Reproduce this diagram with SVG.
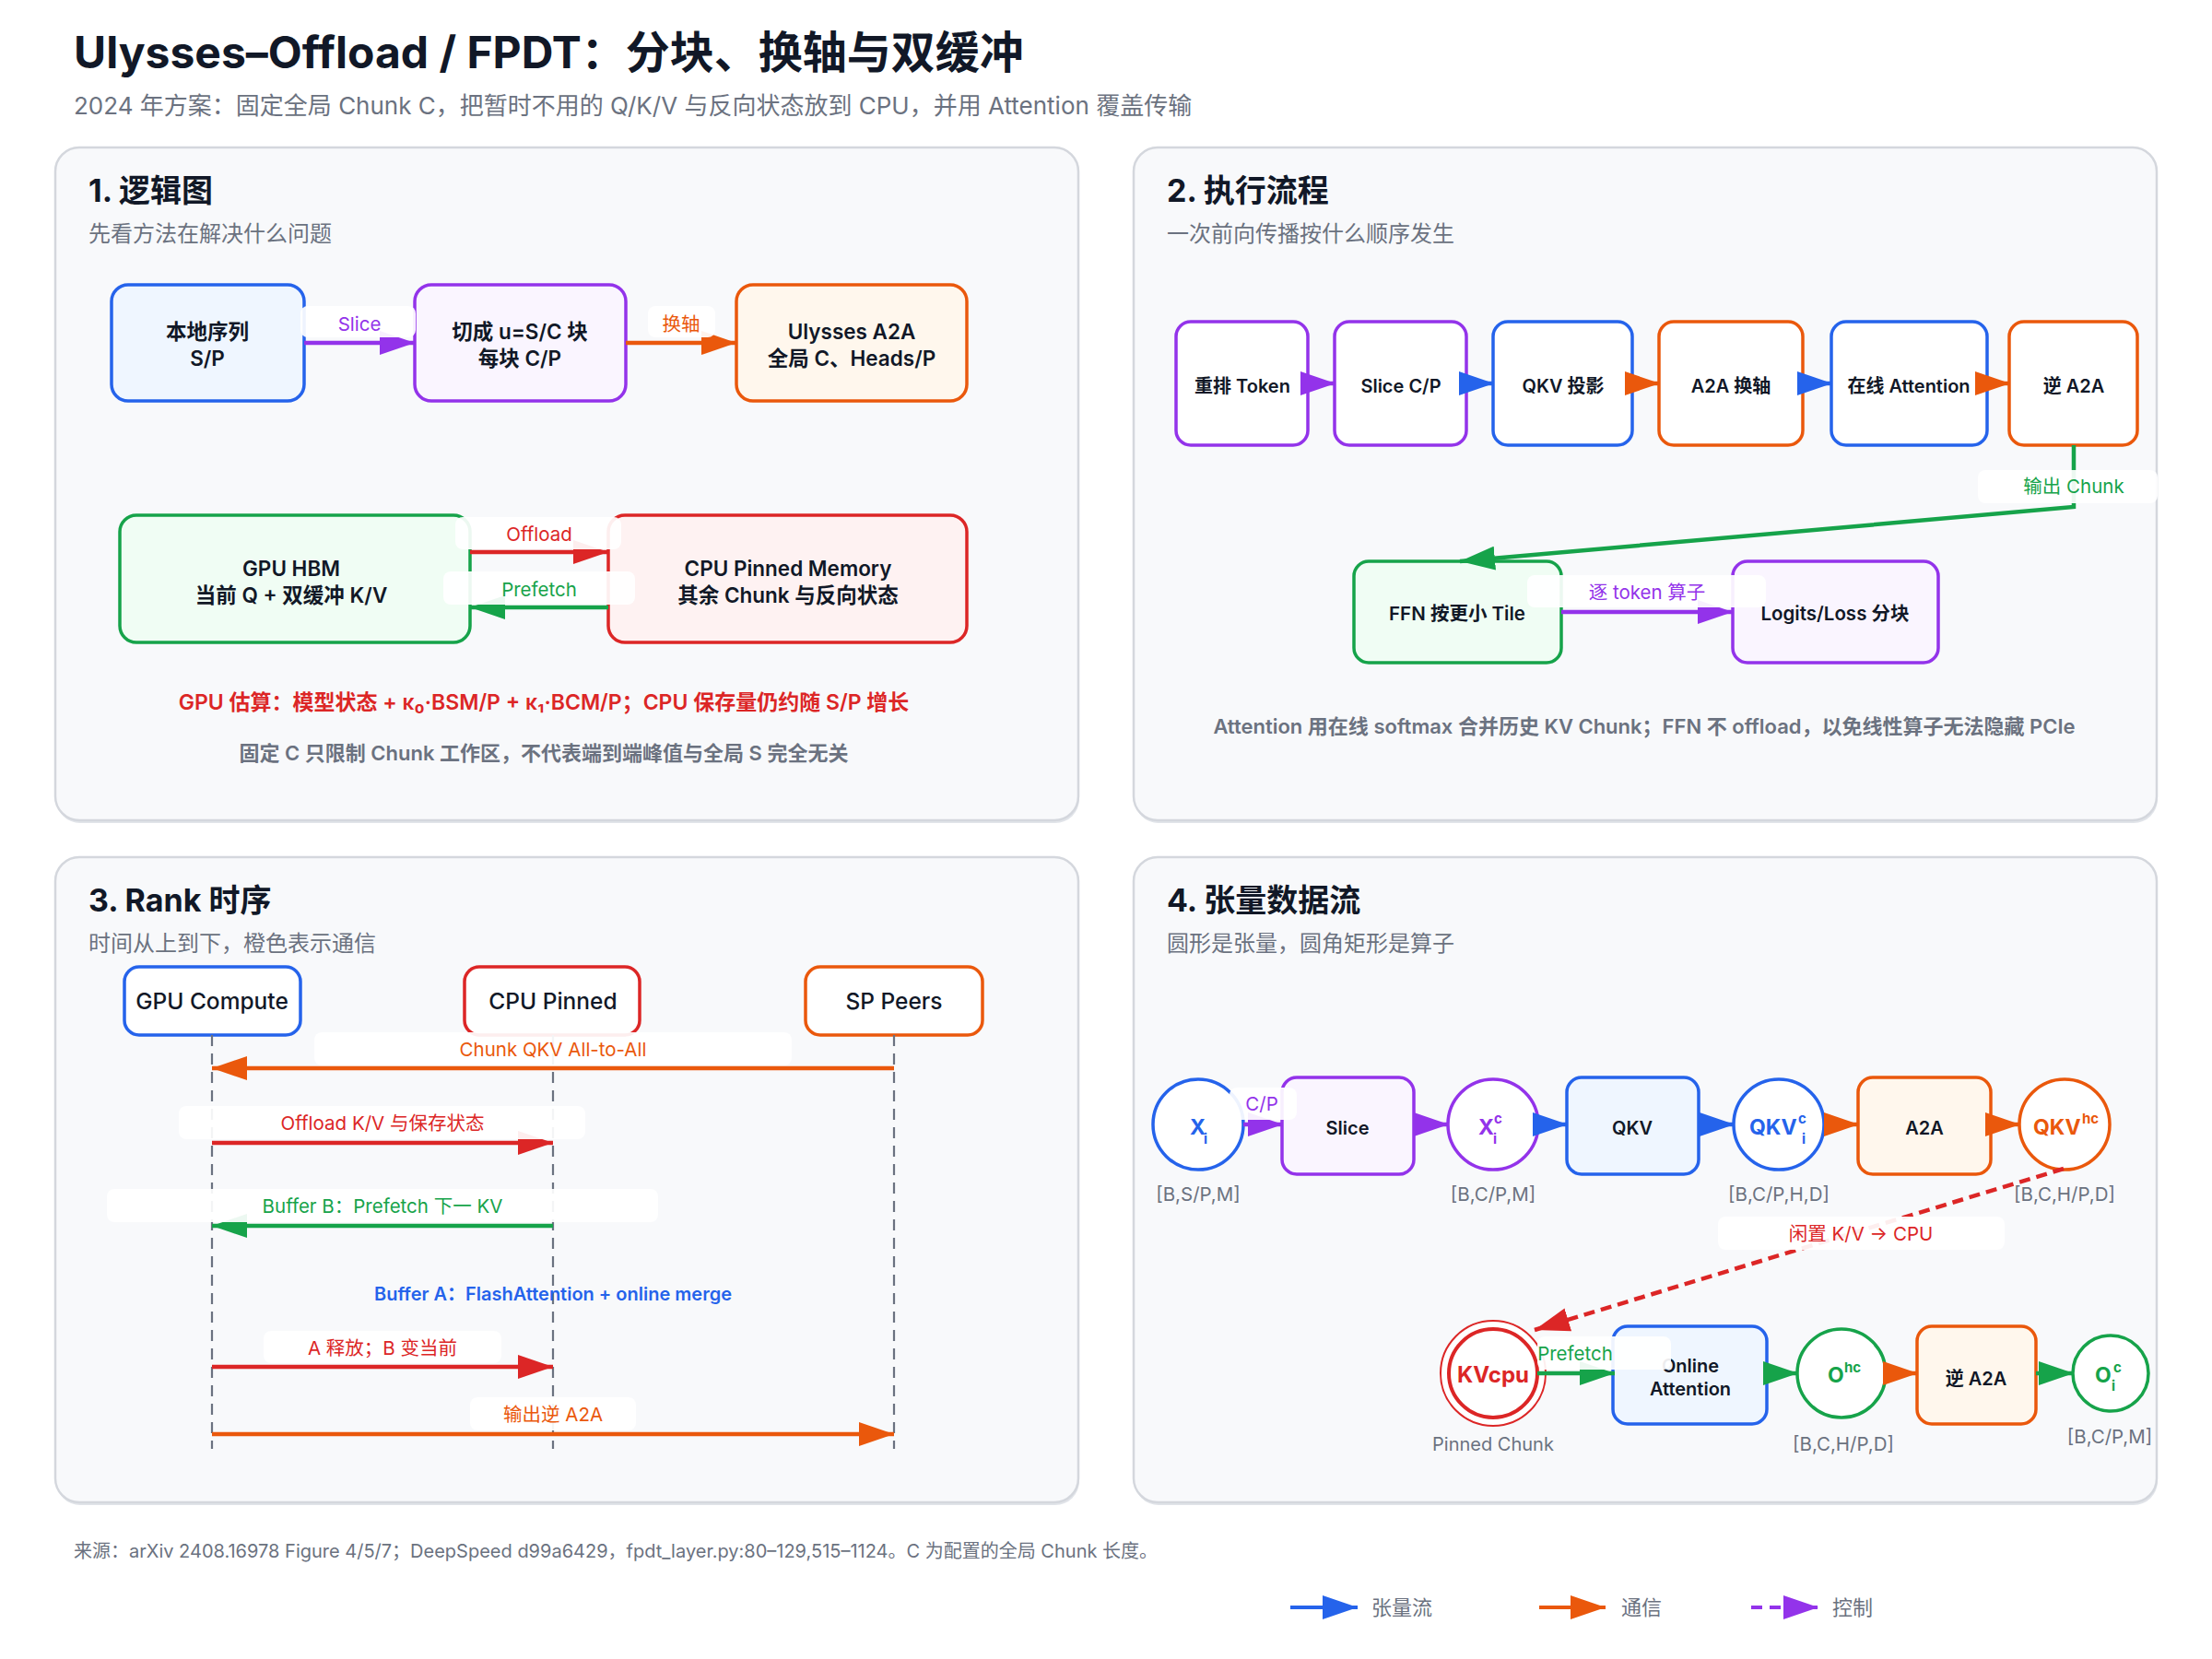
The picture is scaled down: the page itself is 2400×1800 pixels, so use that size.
<svg xmlns="http://www.w3.org/2000/svg" width="2400" height="1800" viewBox="0 0 2400 1800">
<style>
text{font-family:Inter,"Noto Sans CJK SC",sans-serif;}
.title{font-size:48px;font-weight:700;fill:#111827;}
.subtitle{font-size:26px;fill:#6b7280;}
.ptitle{font-size:34px;font-weight:700;fill:#111827;}
.psub{font-size:24px;fill:#6b7280;}
.panel{fill:#f8f9fb;stroke:#d4d7dd;stroke-width:2.5;}
.shadow{fill:#e1e4e9;}
.nt{font-size:20px;font-weight:600;fill:#111827;text-anchor:middle;}
.nt1{font-size:22.5px;font-weight:600;fill:#111827;text-anchor:middle;}
.at{font-size:24.5px;font-weight:500;fill:#111827;text-anchor:middle;}
.lbl{font-size:20.5px;text-anchor:middle;}
.lbox{fill:#ffffff;fill-opacity:0.92;}
.note{font-size:22px;font-weight:600;text-anchor:middle;}
.dim{font-size:20.5px;fill:#6b7280;text-anchor:middle;}
.ct{font-size:23px;font-weight:700;}
.sm{font-size:15px;font-weight:700;}
.n{stroke-width:3.5;}
.blue{stroke:#2563eb;}
.purple{stroke:#9333ea;}
.orange{stroke:#ea580c;}
.green{stroke:#16a34a;}
.red{stroke:#dc2626;}
.c{fill:none;stroke-width:4.5;}
.life{stroke:#6b7280;stroke-width:2.2;stroke-dasharray:12 8;fill:none;}
</style>
<defs>
<marker id="ah-blue" markerUnits="userSpaceOnUse" markerWidth="38" markerHeight="26" refX="38" refY="13" orient="auto"><path d="M0,0 L38,13 L0,26 Z" fill="#2563eb"/></marker>
<marker id="ah-purple" markerUnits="userSpaceOnUse" markerWidth="38" markerHeight="26" refX="38" refY="13" orient="auto"><path d="M0,0 L38,13 L0,26 Z" fill="#9333ea"/></marker>
<marker id="ah-orange" markerUnits="userSpaceOnUse" markerWidth="38" markerHeight="26" refX="38" refY="13" orient="auto"><path d="M0,0 L38,13 L0,26 Z" fill="#ea580c"/></marker>
<marker id="ah-green" markerUnits="userSpaceOnUse" markerWidth="38" markerHeight="26" refX="38" refY="13" orient="auto"><path d="M0,0 L38,13 L0,26 Z" fill="#16a34a"/></marker>
<marker id="ah-red" markerUnits="userSpaceOnUse" markerWidth="38" markerHeight="26" refX="38" refY="13" orient="auto"><path d="M0,0 L38,13 L0,26 Z" fill="#dc2626"/></marker>
</defs>
<rect x="0" y="0" width="2400" height="1800" fill="#ffffff"/>

<text class="title" x="80" y="74">Ulysses–Offload / FPDT：分块、换轴与双缓冲</text>
<text class="subtitle" x="80" y="124">2024 年方案：固定全局 Chunk C，把暂时不用的 Q/K/V 与反向状态放到 CPU，并用 Attention 覆盖传输</text>

<g id="panels">
<rect class="shadow" x="61" y="163" width="1110" height="730" rx="26"/>
<rect class="panel" x="60" y="160" width="1110" height="730" rx="26"/>
<rect class="shadow" x="1231" y="163" width="1110" height="730" rx="26"/>
<rect class="panel" x="1230" y="160" width="1110" height="730" rx="26"/>
<rect class="shadow" x="61" y="933" width="1110" height="700" rx="26"/>
<rect class="panel" x="60" y="930" width="1110" height="700" rx="26"/>
<rect class="shadow" x="1231" y="933" width="1110" height="700" rx="26"/>
<rect class="panel" x="1230" y="930" width="1110" height="700" rx="26"/>
<text class="ptitle" x="96" y="219">1. 逻辑图</text>
<text class="psub" x="96" y="262">先看方法在解决什么问题</text>
<text class="ptitle" x="1266" y="219">2. 执行流程</text>
<text class="psub" x="1266" y="262">一次前向传播按什么顺序发生</text>
<text class="ptitle" x="96" y="989">3. Rank 时序</text>
<text class="psub" x="96" y="1032">时间从上到下，橙色表示通信</text>
<text class="ptitle" x="1266" y="989">4. 张量数据流</text>
<text class="psub" x="1266" y="1032">圆形是张量，圆角矩形是算子</text>
</g>

<!-- Panel 1 nodes -->
<g id="p1-local"><rect class="n blue" x="121" y="309" width="209" height="126" rx="18" fill="#eff6ff"/><text class="nt1" x="225" y="368">本地序列</text><text class="nt1" x="225" y="397">S/P</text></g>
<g id="p1-slice"><rect class="n purple" x="450" y="309" width="229" height="126" rx="18" fill="#faf5ff"/><text class="nt1" x="564" y="368">切成 u=S/C 块</text><text class="nt1" x="564" y="397">每块 C/P</text></g>
<g id="p1-a2a"><rect class="n orange" x="799" y="309" width="250" height="126" rx="18" fill="#fff7ed"/><text class="nt1" x="924" y="368">Ulysses A2A</text><text class="nt1" x="924" y="397">全局 C、Heads/P</text></g>
<g id="p1-gpu"><rect class="n green" x="130" y="559" width="380" height="138" rx="18" fill="#f0fdf4"/><text class="nt1" x="316" y="625">GPU HBM</text><text class="nt1" x="316" y="654">当前 Q + 双缓冲 K/V</text></g>
<g id="p1-cpu"><rect class="n red" x="660" y="559" width="389" height="138" rx="18" fill="#fef2f2"/><text class="nt1" x="855" y="625">CPU Pinned Memory</text><text class="nt1" x="855" y="654">其余 Chunk 与反向状态</text></g>

<!-- Panel 2 nodes -->
<g id="p2-reorder"><rect class="n purple" x="1276" y="349" width="143" height="134" rx="16" fill="#ffffff"/><text class="nt" x="1348" y="426">重排 Token</text></g>
<g id="p2-slice"><rect class="n purple" x="1448" y="349" width="143" height="134" rx="16" fill="#ffffff"/><text class="nt" x="1520" y="426">Slice C/P</text></g>
<g id="p2-qkv"><rect class="n blue" x="1620" y="349" width="151" height="134" rx="16" fill="#ffffff"/><text class="nt" x="1696" y="426">QKV 投影</text></g>
<g id="p2-a2a"><rect class="n orange" x="1800" y="349" width="156" height="134" rx="16" fill="#ffffff"/><text class="nt" x="1878" y="426">A2A 换轴</text></g>
<g id="p2-attn"><rect class="n blue" x="1987" y="349" width="169" height="134" rx="16" fill="#ffffff"/><text class="nt" x="2071" y="426">在线 Attention</text></g>
<g id="p2-inv"><rect class="n orange" x="2180" y="349" width="139" height="134" rx="16" fill="#ffffff"/><text class="nt" x="2250" y="426">逆 A2A</text></g>
<g id="p2-ffn"><rect class="n green" x="1469" y="609" width="225" height="110" rx="16" fill="#f0fdf4"/><text class="nt" x="1581" y="673" style="font-size:20.5px">FFN 按更小 Tile</text></g>
<g id="p2-logits"><rect class="n purple" x="1880" y="609" width="223" height="110" rx="16" fill="#faf5ff"/><text class="nt" x="1991" y="673" style="font-size:20.5px">Logits/Loss 分块</text></g>

<!-- Panel 3 actors -->
<g id="p3-gpu"><rect class="n blue" x="135" y="1049" width="191" height="74" rx="16" fill="#ffffff"/><text class="at" x="230" y="1095">GPU Compute</text></g>
<g id="p3-cpu"><rect class="n red" x="504" y="1049" width="190" height="74" rx="16" fill="#ffffff"/><text class="at" x="600" y="1095">CPU Pinned</text></g>
<g id="p3-sp"><rect class="n orange" x="874" y="1049" width="192" height="74" rx="16" fill="#ffffff"/><text class="at" x="970" y="1095">SP Peers</text></g>

<!-- Panel 4 nodes -->
<g id="p4-xi"><circle class="n blue" cx="1300" cy="1220" r="49" fill="#ffffff"/><text class="ct" x="1291" y="1231" fill="#2563eb">X</text><text class="sm" x="1306" y="1241" fill="#2563eb">i</text><text class="dim" x="1300" y="1303">[B,S/P,M]</text></g>
<g id="p4-slice"><rect class="n purple" x="1391" y="1169" width="143" height="105" rx="16" fill="#faf5ff"/><text class="nt" x="1462" y="1231">Slice</text></g>
<g id="p4-xic"><circle class="n purple" cx="1620" cy="1220" r="49" fill="#ffffff"/><text class="ct" x="1604" y="1231" fill="#9333ea">X</text><text class="sm" x="1621" y="1219" fill="#9333ea">c</text><text class="sm" x="1620" y="1241" fill="#9333ea">i</text><text class="dim" x="1620" y="1303">[B,C/P,M]</text></g>
<g id="p4-qkv"><rect class="n blue" x="1700" y="1169" width="143" height="105" rx="16" fill="#eff6ff"/><text class="nt" x="1771" y="1231">QKV</text></g>
<g id="p4-qkvc"><circle class="n blue" cx="1930" cy="1220" r="49" fill="#ffffff"/><text class="ct" x="1898" y="1231" fill="#2563eb">QKV</text><text class="sm" x="1951" y="1219" fill="#2563eb">c</text><text class="sm" x="1955" y="1241" fill="#2563eb">i</text><text class="dim" x="1930" y="1303">[B,C/P,H,D]</text></g>
<g id="p4-a2a"><rect class="n orange" x="2016" y="1169" width="144" height="105" rx="16" fill="#fff7ed"/><text class="nt" x="2088" y="1231">A2A</text></g>
<g id="p4-qkvhc"><circle class="n orange" cx="2240" cy="1220" r="49" fill="#ffffff"/><text class="ct" x="2206" y="1231" fill="#ea580c">QKV</text><text class="sm" x="2259" y="1219" fill="#ea580c">hc</text><text class="dim" x="2240" y="1303">[B,C,H/P,D]</text></g>
<g id="p4-kvcpu"><circle class="red" cx="1620" cy="1490" r="57" fill="#ffffff" stroke-width="2"/><circle class="red" cx="1620" cy="1490" r="48" fill="#ffffff" stroke-width="4"/><text class="ct" x="1620" y="1500" text-anchor="middle" fill="#dc2626" style="font-size:24px">KVcpu</text><text class="dim" x="1620" y="1574" style="font-size:20px">Pinned Chunk</text></g>
<g id="p4-online"><rect class="n blue" x="1750" y="1439" width="167" height="106" rx="16" fill="#eff6ff"/><text class="nt" x="1834" y="1489">Online</text><text class="nt" x="1834" y="1514">Attention</text></g>
<g id="p4-ohc"><circle class="n green" cx="1998" cy="1490" r="48" fill="#ffffff"/><text class="ct" x="1983" y="1500" fill="#16a34a">O</text><text class="sm" x="2001" y="1489" fill="#16a34a">hc</text><text class="dim" x="2000" y="1574">[B,C,H/P,D]</text></g>
<g id="p4-inv"><rect class="n orange" x="2080" y="1439" width="129" height="106" rx="16" fill="#fff7ed"/><text class="nt" x="2144" y="1503">逆 A2A</text></g>
<g id="p4-oic"><circle class="n green" cx="2290" cy="1490" r="41" fill="#ffffff"/><text class="ct" x="2273" y="1500" fill="#16a34a">O</text><text class="sm" x="2293" y="1489" fill="#16a34a">c</text><text class="sm" x="2291" y="1509" fill="#16a34a">i</text><text class="dim" x="2289" y="1566">[B,C/P,M]</text></g>

<g id="connectors">
<!-- panel 1 -->
<line class="c purple" x1="330" y1="372" x2="450" y2="372" marker-end="url(#ah-purple)"/>
<line class="c orange" x1="679" y1="372" x2="799" y2="372" marker-end="url(#ah-orange)"/>
<line class="c red" x1="510" y1="599" x2="660" y2="599" marker-end="url(#ah-red)"/>
<line class="c green" x1="660" y1="659" x2="510" y2="659" marker-end="url(#ah-green)"/>
<!-- panel 2 -->
<line class="c purple" x1="1419" y1="416" x2="1449" y2="416" marker-end="url(#ah-purple)"/>
<line class="c blue" x1="1591" y1="416" x2="1621" y2="416" marker-end="url(#ah-blue)"/>
<line class="c orange" x1="1771" y1="416" x2="1801" y2="416" marker-end="url(#ah-orange)"/>
<line class="c blue" x1="1956" y1="416" x2="1988" y2="416" marker-end="url(#ah-blue)"/>
<line class="c orange" x1="2156" y1="416" x2="2181" y2="416" marker-end="url(#ah-orange)"/>
<polyline class="c green" points="2250,483 2250,550 1584,609" marker-end="url(#ah-green)"/>
<line class="c purple" x1="1694" y1="664" x2="1880" y2="664" marker-end="url(#ah-purple)"/>
<!-- panel 3 -->
<line class="life" x1="230" y1="1123" x2="230" y2="1572"/>
<line class="life" x1="600" y1="1123" x2="600" y2="1572"/>
<line class="life" x1="970" y1="1123" x2="970" y2="1572"/>
<line class="c orange" x1="970" y1="1159" x2="230" y2="1159" marker-end="url(#ah-orange)"/>
<line class="c red" x1="230" y1="1240" x2="600" y2="1240" marker-end="url(#ah-red)"/>
<line class="c green" x1="600" y1="1330" x2="230" y2="1330" marker-end="url(#ah-green)"/>
<line class="c red" x1="230" y1="1483" x2="600" y2="1483" marker-end="url(#ah-red)"/>
<line class="c orange" x1="230" y1="1556" x2="970" y2="1556" marker-end="url(#ah-orange)"/>
<!-- panel 4 -->
<line class="c purple" x1="1349" y1="1220" x2="1392" y2="1220" marker-end="url(#ah-purple)"/>
<line class="c purple" x1="1534" y1="1220" x2="1572" y2="1220" marker-end="url(#ah-purple)"/>
<line class="c blue" x1="1669" y1="1220" x2="1701" y2="1220" marker-end="url(#ah-blue)"/>
<line class="c blue" x1="1843" y1="1220" x2="1882" y2="1220" marker-end="url(#ah-blue)"/>
<line class="c orange" x1="1979" y1="1220" x2="2017" y2="1220" marker-end="url(#ah-orange)"/>
<line class="c orange" x1="2160" y1="1220" x2="2192" y2="1220" marker-end="url(#ah-orange)"/>
<line class="c red" x1="2239" y1="1268" x2="1665" y2="1443" stroke-dasharray="12 7" marker-end="url(#ah-red)"/>
<line class="c green" x1="1668" y1="1490" x2="1752" y2="1490" marker-end="url(#ah-green)"/>
<line class="c green" x1="1917" y1="1490" x2="1951" y2="1490" marker-end="url(#ah-green)"/>
<line class="c orange" x1="2046" y1="1490" x2="2081" y2="1490" marker-end="url(#ah-orange)"/>
<line class="c green" x1="2209" y1="1490" x2="2250" y2="1490" marker-end="url(#ah-green)"/>
</g>

<g id="labels">
<rect class="lbox" x="326" y="332" width="125" height="34" rx="8"/><text class="lbl" x="390" y="359" fill="#9333ea">Slice</text>
<rect class="lbox" x="703" y="332" width="73" height="34" rx="8"/><text class="lbl" x="739" y="359" fill="#ea580c">换轴</text>
<rect class="lbox" x="494" y="561" width="180" height="35" rx="8"/><text class="lbl" x="585" y="587" fill="#dc2626">Offload</text>
<rect class="lbox" x="481" y="620" width="208" height="36" rx="8"/><text class="lbl" x="585" y="647" fill="#16a34a">Prefetch</text>
<rect class="lbox" x="2146" y="510" width="195" height="36" rx="8"/><text class="lbl" x="2250" y="535" fill="#16a34a">输出 Chunk</text>
<rect class="lbox" x="1657" y="624" width="259" height="35" rx="8"/><text class="lbl" x="1787" y="650" fill="#9333ea">逐 token 算子</text>
<rect class="lbox" x="341" y="1120" width="518" height="36" rx="8"/><text class="lbl" x="600" y="1146" fill="#ea580c">Chunk QKV All-to-All</text>
<rect class="lbox" x="194" y="1200" width="441" height="36" rx="8"/><text class="lbl" x="415" y="1226" fill="#dc2626">Offload K/V 与保存状态</text>
<rect class="lbox" x="116" y="1290" width="598" height="36" rx="8"/><text class="lbl" x="415" y="1316" fill="#16a34a">Buffer B：Prefetch 下一 KV</text>
<text class="lbl" x="600" y="1411" fill="#2563eb" style="font-weight:600;font-size:20px">Buffer A：FlashAttention + online merge</text>
<rect class="lbox" x="286" y="1444" width="258" height="35" rx="8"/><text class="lbl" x="415" y="1470" fill="#dc2626">A 释放；B 变当前</text>
<rect class="lbox" x="510" y="1516" width="180" height="36" rx="8"/><text class="lbl" x="600" y="1542" fill="#ea580c">输出逆 A2A</text>
<rect class="lbox" x="1334" y="1180" width="73" height="35" rx="8"/><text class="lbl" x="1369" y="1205" fill="#9333ea">C/P</text>
<rect class="lbox" x="1864" y="1320" width="311" height="36" rx="8"/><text class="lbl" x="2019" y="1346" fill="#dc2626">闲置 K/V → CPU</text>
<rect class="lbox" x="1668" y="1450" width="145" height="36" rx="8"/><text class="lbl" x="1709" y="1476" fill="#16a34a">Prefetch</text>
</g>

<g id="notes">
<text class="note" x="590" y="770" fill="#dc2626" style="font-size:23px">GPU 估算：模型状态 + κ₀·BSM/P + κ₁·BCM/P；CPU 保存量仍约随 S/P 增长</text>
<text class="note" x="590" y="825" fill="#6b7280">固定 C 只限制 Chunk 工作区，不代表端到端峰值与全局 S 完全无关</text>
<text class="note" x="1784" y="796" fill="#6b7280">Attention 用在线 softmax 合并历史 KV Chunk；FFN 不 offload，以免线性算子无法隐藏 PCIe</text>
</g>

<text x="80" y="1690" style="font-size:20px;fill:#6b7280">来源：arXiv 2408.16978 Figure 4/5/7；DeepSpeed d99a6429，fpdt_layer.py:80–129,515–1124。C 为配置的全局 Chunk 长度。</text>

<g id="legend">
<line class="blue" x1="1400" y1="1744" x2="1473" y2="1744" stroke-width="4" marker-end="url(#ah-blue)"/>
<text x="1488" y="1752" style="font-size:22px;fill:#6b7280">张量流</text>
<line class="orange" x1="1670" y1="1744" x2="1742" y2="1744" stroke-width="4" marker-end="url(#ah-orange)"/>
<text x="1759" y="1752" style="font-size:22px;fill:#6b7280">通信</text>
<line class="purple" x1="1900" y1="1744" x2="1973" y2="1744" stroke-width="4" stroke-dasharray="12 8" marker-end="url(#ah-purple)"/>
<text x="1988" y="1752" style="font-size:22px;fill:#6b7280">控制</text>
</g>
</svg>
